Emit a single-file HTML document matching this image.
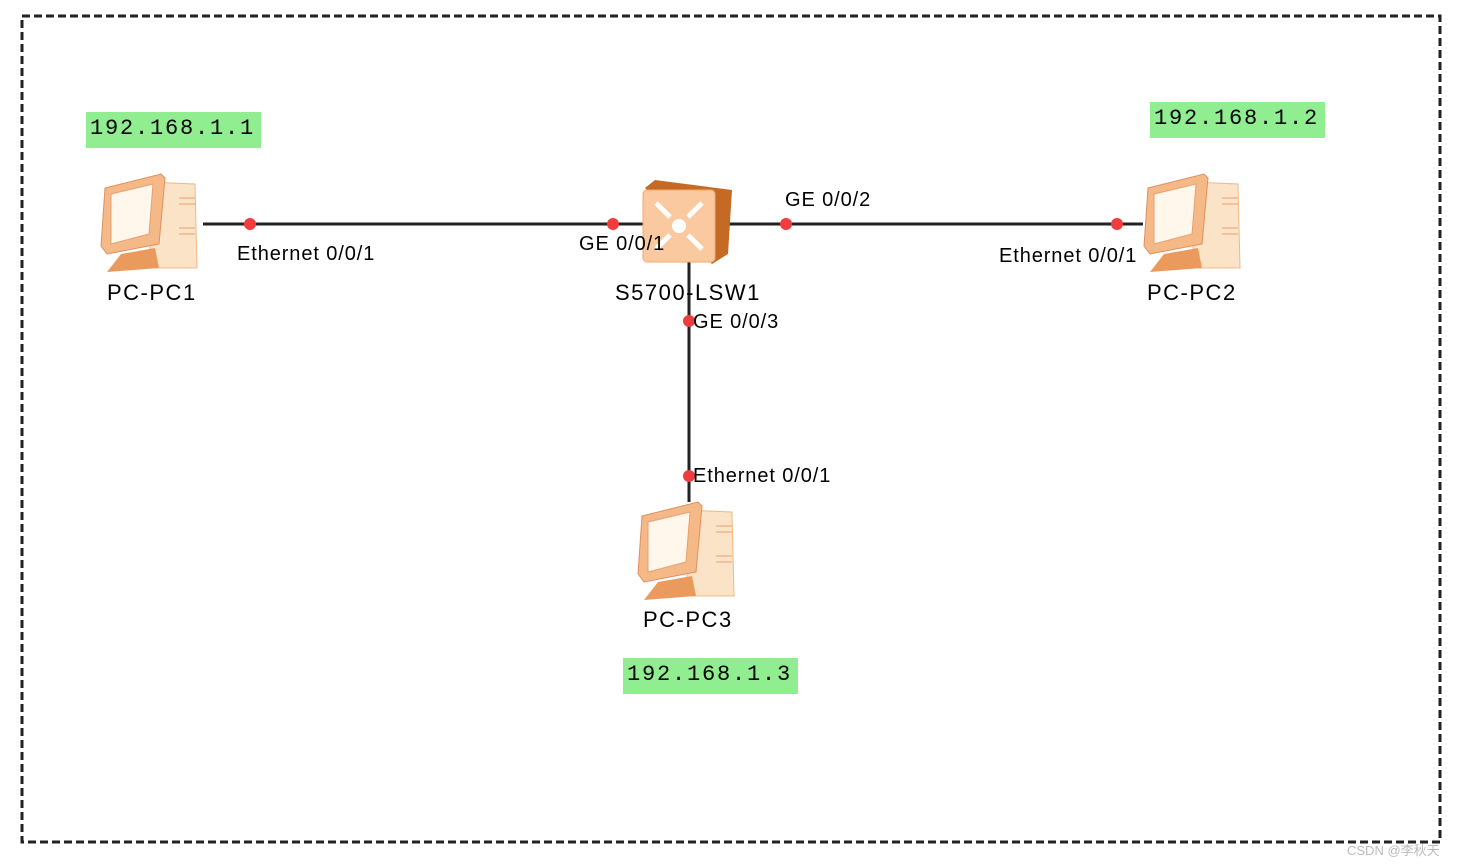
<!DOCTYPE html>
<html><head><meta charset="utf-8"><style>
body{margin:0;background:#fff;width:1462px;height:865px;overflow:hidden;position:relative;font-family:"Liberation Sans",sans-serif}
.t{position:absolute;font-size:20px;color:#000;white-space:nowrap;letter-spacing:0.9px}
.n{font-size:22px;letter-spacing:1.5px}
.ip{position:absolute;background:#90ee90;font-family:"Liberation Mono",monospace;font-size:22px;letter-spacing:1.8px;height:36px;line-height:34px;padding:0 4px;box-sizing:border-box}
</style></head><body>
<svg width="1462" height="865" style="position:absolute;left:0;top:0">
<defs>
<g id="pc">
<polygon points="50,10 98,12 100,96 54,96" fill="#fbe3c8" stroke="#f0b888"/>
<line x1="82" y1="26" x2="98" y2="26" stroke="#e8a070"/><line x1="82" y1="32" x2="98" y2="32" stroke="#e8a070"/>
<line x1="82" y1="56" x2="98" y2="56" stroke="#e8a070"/><line x1="82" y1="62" x2="98" y2="62" stroke="#e8a070"/>
<polygon points="8,16 64,2 68,6 62,72 10,82 4,74" fill="#f5b887" stroke="#e09060"/>
<polygon points="14,22 56,12 52,62 14,72" fill="#fff6ec" stroke="#e8a070"/>
<polygon points="24,82 58,76 62,96 10,100" fill="#eb9a5e"/>
</g>
</defs>
<rect x="22" y="16" width="1418" height="826" fill="none" stroke="#222" stroke-width="3" stroke-dasharray="8,4"/>
<line x1="203" y1="224" x2="1143" y2="224" stroke="#222" stroke-width="3"/>
<line x1="689" y1="255" x2="689" y2="502" stroke="#222" stroke-width="3"/>
<use href="#pc" x="97" y="172"/>
<use href="#pc" x="1140" y="172"/>
<use href="#pc" x="634" y="500"/>
<polygon points="645,188 655,180 732,190 728,254 712,264" fill="#c46a24"/>
<rect x="643" y="190" width="72" height="72" rx="4" fill="#fbc9a0" stroke="#f3a870"/>
<circle cx="679" cy="226" r="7" fill="#fff"/>
<g stroke="#fff" stroke-width="5"><line x1="656" y1="203" x2="670" y2="217"/><line x1="702" y1="203" x2="688" y2="217"/><line x1="656" y1="249" x2="670" y2="235"/><line x1="702" y1="249" x2="688" y2="235"/></g>
<g fill="#f03c3c"><circle cx="250" cy="224" r="6"/><circle cx="613" cy="224" r="6"/><circle cx="786" cy="224" r="6"/><circle cx="1117" cy="224" r="6"/><circle cx="689" cy="321" r="6"/><circle cx="689" cy="476" r="6"/></g>
</svg>
<div class="ip" style="left:86px;top:112px;width:175px">192.168.1.1</div>
<div class="ip" style="left:1150px;top:102px;width:175px">192.168.1.2</div>
<div class="ip" style="left:623px;top:658px;width:175px">192.168.1.3</div>
<div class="t" style="left:237px;top:243px">Ethernet 0/0/1</div>
<div class="t n" style="left:107px;top:280px">PC-PC1</div>
<div class="t" style="left:579px;top:233px">GE 0/0/1</div>
<div class="t" style="left:785px;top:189px">GE 0/0/2</div>
<div class="t n" style="left:615px;top:280px">S5700-LSW1</div>
<div class="t" style="left:693px;top:311px">GE 0/0/3</div>
<div class="t" style="left:999px;top:245px">Ethernet 0/0/1</div>
<div class="t n" style="left:1147px;top:280px">PC-PC2</div>
<div class="t" style="left:693px;top:465px">Ethernet 0/0/1</div>
<div class="t n" style="left:643px;top:607px">PC-PC3</div>
<div class="t" style="left:1347px;top:840px;font-size:13px;color:#bbb;letter-spacing:0">CSDN @李秋天</div>
</body></html>
